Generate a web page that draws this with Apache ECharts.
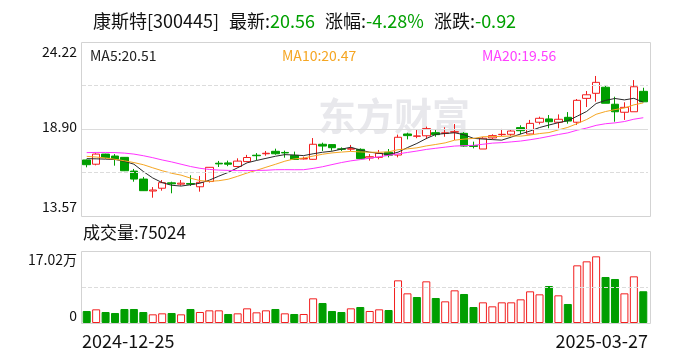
<!DOCTYPE html>
<html><head><meta charset="utf-8">
<script src="https://cdn.jsdelivr.net/npm/echarts@6/dist/echarts.min.js"></script>
<style>html,body{margin:0;padding:0;background:#fff}#c{width:688px;height:360px}</style>
</head><body><div id="c"></div>
<script>
// ---------- data ----------
const dates = [
 '2024-12-25','2024-12-26','2024-12-27','2024-12-30','2024-12-31',
 '2025-01-02','2025-01-03','2025-01-06','2025-01-07','2025-01-08','2025-01-09','2025-01-10',
 '2025-01-13','2025-01-14','2025-01-15','2025-01-16','2025-01-17','2025-01-20','2025-01-21',
 '2025-01-22','2025-01-23','2025-01-24','2025-01-27',
 '2025-02-05','2025-02-06','2025-02-07','2025-02-10','2025-02-11','2025-02-12','2025-02-13',
 '2025-02-14','2025-02-17','2025-02-18','2025-02-19','2025-02-20','2025-02-21','2025-02-24',
 '2025-02-25','2025-02-26','2025-02-27','2025-02-28',
 '2025-03-03','2025-03-04','2025-03-05','2025-03-06','2025-03-07','2025-03-10','2025-03-11',
 '2025-03-12','2025-03-13','2025-03-14','2025-03-17','2025-03-18','2025-03-19','2025-03-20',
 '2025-03-21','2025-03-24','2025-03-25','2025-03-26','2025-03-27'
];
const opens = [17.00,16.74,17.36,17.24,17.16,16.32,15.83,15.10,15.27,15.60,
 15.52,15.56,15.36,15.68,16.80,16.82,16.60,16.90,17.29,17.38,
 17.53,17.46,17.28,17.06,17.04,17.96,17.94,17.68,17.66,17.65,
 17.12,17.16,17.47,17.30,18.59,18.45,18.48,18.67,18.63,18.70,
 18.63,17.88,17.67,18.35,18.55,18.57,18.98,18.59,19.31,19.51,
 19.31,19.61,19.31,20.77,21.08,21.45,20.41,19.92,19.95,21.20];
const closes = [16.71,17.36,17.14,17.04,16.34,15.83,15.12,15.16,15.61,15.54,
 15.58,15.52,15.63,16.55,16.76,16.74,16.93,17.15,17.26,17.41,
 17.38,17.43,17.03,17.09,17.96,17.85,17.75,17.65,17.69,17.08,
 17.20,17.41,17.29,18.39,18.49,18.47,18.92,18.55,18.66,18.73,
 17.85,17.83,18.33,18.49,18.57,18.77,18.79,19.24,19.55,19.34,
 19.49,19.38,20.65,20.99,21.75,20.47,19.95,20.22,21.48,20.56];
const lows = [16.55,16.67,17.08,16.65,16.32,15.67,15.10,14.69,15.12,14.96,
 15.43,15.41,15.06,15.62,16.57,16.62,16.55,16.88,16.98,17.26,
 17.32,17.14,17.00,17.03,17.02,17.55,17.57,17.55,17.55,17.08,
 16.96,17.04,17.16,17.16,18.26,18.33,18.28,18.42,18.42,18.22,
 17.80,17.71,17.67,18.26,18.47,18.47,18.57,18.57,19.18,18.94,
 18.94,19.22,19.14,20.24,20.57,20.47,19.34,19.45,19.95,20.56];
const highs = [17.03,17.41,17.38,17.36,17.18,16.45,15.96,15.34,15.77,15.67,
 15.77,16.06,16.02,16.56,16.94,16.96,17.10,17.31,17.42,17.55,
 17.69,17.57,17.51,17.20,18.34,18.06,17.96,17.77,17.92,17.71,
 17.36,17.61,17.67,18.55,18.67,18.83,19.04,18.88,19.00,19.20,
 18.70,18.12,18.40,18.57,18.90,18.84,19.12,19.45,19.65,19.75,
 19.79,19.93,20.73,21.22,22.14,21.53,20.87,20.53,21.89,21.42];
const volumes = [28370,32300,26000,23640,33100,33100,26000,20490,22850,23640,
 20490,33100,26000,29940,29940,21280,22850,34670,25220,29940,
 33100,22850,21280,21280,58310,47280,28370,26000,34670,37820,
 28370,32300,30730,100860,70130,61460,98500,59100,51220,77220,
 68560,37820,48860,39400,48860,48860,55950,74860,67770,87470,
 65400,44920,136320,145780,157600,108740,104020,70130,110320,75024];
// moving-average values before enough closes exist in the window
const ma5Head = [17.08,17.07,17.05,17.03];
const ma10Head = [17.22,17.18,17.12,17.04,16.95,16.84,16.71,16.52,16.34];
const ma20Head = [17.45,17.46,17.46,17.45,17.42,17.36,17.26,17.14,17.00,16.88,
 16.74,16.60,16.49,16.42,16.38,16.36,16.35,16.35,16.36];
// axis ticks
const priceMin = 13.57, priceMax = 24.22;
const priceTicks = [13.57, 18.895, 24.22];
const priceTickLabels = ['13.57', '18.90', '24.22'];
const priceGridLines = [16.2325, 18.895, 21.5575];
const volMax = 170200;
const volTicks = [0, 170200];
const volTickLabels = ['0', '17.02万'];
const volGridLines = [85100];
const dateLabels = ['2024-12-25', '2025-03-27'];
// header texts
const stockName = '康斯特[300445]';
const latestPrice = '20.56', changePct = '-4.28%', changeAmt = '-0.92';
const maLegend = ['MA5:20.51', 'MA10:20.47', 'MA20:19.56'];
const volumeText = '成交量:75024';
const watermark = '东方财富';

// ---------- chart ----------
const UP = '#f21e1e', DOWN = '#009e00';
const FONT = '"Noto Sans CJK SC", "Noto Sans", sans-serif';

function movingAvg(n, head) {
  return closes.map((c, i) => {
    if (i < n - 1) return head[i];
    let s = 0;
    for (let k = i - n + 1; k <= i; k++) s += closes[k];
    return +(s / n).toFixed(3);
  });
}
const ma5 = movingAvg(5, ma5Head);
const ma10 = movingAvg(10, ma10Head);
const ma20 = movingAvg(20, ma20Head);

const kData = dates.map((d, i) => [opens[i], closes[i], lows[i], highs[i]]);
const volData = volumes.map((v, i) => {
  const prev = i === 0 ? opens[0] : closes[i - 1];
  const up = closes[i] > prev;
  return {
    value: v,
    itemStyle: up ? {color: '#ffffff', borderColor: UP, borderWidth: 1}
                  : {color: DOWN, borderColor: DOWN, borderWidth: 1}
  };
});

function tickFormatter(ticks, labels) {
  return function (v) {
    for (let i = 0; i < ticks.length; i++) {
      if (Math.abs(v - ticks[i]) < 1e-6) return '{p' + i + '|' + labels[i] + '}';
    }
    return '';
  };
}
function padRich(pads) {
  const r = {};
  pads.forEach((p, i) => { r['p' + i] = {padding: p, fontSize: 14, fontFamily: FONT, color: '#111'}; });
  return r;
}

const chart = echarts.init(document.getElementById('c'), null, {renderer: 'canvas'});
chart.setOption({
  animation: false,
  backgroundColor: '#ffffff',
  title: {
    left: 88, top: 7,
    text: '{k|' + stockName + '}  {k|最新:}{g|' + latestPrice + '}  {k|涨幅:}{g|' + changePct + '}  {k|涨跌:}{g|' + changeAmt + '}',
    textStyle: {
      fontWeight: 'normal',
      rich: {
        k: {fontSize: 18, fontFamily: FONT, color: '#111', fontWeight: 'normal'},
        g: {fontSize: 18, fontFamily: FONT, color: '#00a000', fontWeight: 'normal'}
      }
    }
  },
  grid: [
    {left: 82, width: 566, top: 42, height: 174},
    {left: 82, width: 566, top: 251, height: 72}
  ],
  xAxis: [
    {type: 'category', gridIndex: 0, position: 'bottom', data: dates, boundaryGap: true,
     axisLine: {show: false}, axisTick: {show: false}, axisLabel: {show: false}, splitLine: {show: false}},
    {type: 'category', gridIndex: 1, position: 'bottom', data: dates, boundaryGap: true,
     axisLine: {show: false}, axisTick: {show: false}, axisLabel: {show: false}, splitLine: {show: false}},
    {type: 'value', gridIndex: 1, position: 'bottom', offset: 0, min: 0, max: 1, interval: 1,
     axisLine: {show: false}, axisTick: {show: false}, splitLine: {show: false},
     axisLabel: {show: true, align: 'left', margin: 9, fontSize: 18, fontFamily: FONT, color: '#111',
       formatter: v => (v === 0 ? dateLabels[0] : '')}},
    {type: 'value', gridIndex: 1, position: 'bottom', offset: 0, min: 0, max: 1, interval: 1,
     axisLine: {show: false}, axisTick: {show: false}, splitLine: {show: false},
     axisLabel: {show: true, align: 'right', margin: 9, fontSize: 18, fontFamily: FONT, color: '#111',
       formatter: v => (v === 1 ? dateLabels[1] : '')}}
  ],
  yAxis: [
    {type: 'value', gridIndex: 0, min: priceMin, max: priceMax, scale: true,
     axisLine: {show: false}, axisTick: {show: false}, splitLine: {show: false},
     axisLabel: {show: true, margin: 5, customValues: priceTicks,
       formatter: tickFormatter(priceTicks, priceTickLabels),
       rich: padRich([[0, 0, 18, 0], [0, 0, 4, 0], [20, 0, 0, 0]])}},
    {type: 'value', gridIndex: 1, min: 0, max: volMax,
     axisLine: {show: false}, axisTick: {show: false}, splitLine: {show: false},
     axisLabel: {show: true, margin: 5, customValues: volTicks,
       formatter: tickFormatter(volTicks, volTickLabels),
       rich: padRich([[0, 0, 14, 0], [18, 0, 0, 0]])}}
  ],
  graphic: [
    {type: 'rect', z: 0, shape: {x: 81.5, y: 42.5, width: 569, height: 174},
     style: {fill: 'none', stroke: '#d3d3d3', lineWidth: 1}, silent: true},
    {type: 'rect', z: 0, shape: {x: 81.5, y: 251.5, width: 569, height: 72},
     style: {fill: 'none', stroke: '#d3d3d3', lineWidth: 1}, silent: true},
    {type: 'text', z: 0, silent: true,
     style: {x: 318, y: 116, text: watermark, fill: '#e8e8ec', font: 'bold 38px ' + FONT, verticalAlign: 'middle'}},
    {type: 'text', silent: true,
     style: {x: 90, y: 56, text: maLegend[0], fill: '#222', font: '14px ' + FONT, verticalAlign: 'middle'}},
    {type: 'text', silent: true,
     style: {x: 282, y: 56, text: maLegend[1], fill: '#f5a623', font: '14px ' + FONT, verticalAlign: 'middle'}},
    {type: 'text', silent: true,
     style: {x: 482, y: 56, text: maLegend[2], fill: '#ff40ff', font: '14px ' + FONT, verticalAlign: 'middle'}},
    {type: 'text', silent: true,
     style: {x: 83, y: 233, text: volumeText, fill: '#111', font: '17px ' + FONT, verticalAlign: 'middle'}}
  ],
  series: [
    {type: 'candlestick', xAxisIndex: 0, yAxisIndex: 0, data: kData, barWidth: 8,
     itemStyle: {color: '#ffffff', color0: DOWN, borderColor: UP, borderColor0: DOWN, borderWidth: 1},
     markLine: {silent: true, symbol: 'none', label: {show: false},
       data: priceGridLines.map((v, i) => ({yAxis: v,
         lineStyle: {color: '#dcdcdc', width: 1, type: i === 1 ? 'solid' : 'dashed'}}))}},
    {type: 'line', xAxisIndex: 0, yAxisIndex: 0, data: ma5, showSymbol: false, symbol: 'none',
     lineStyle: {color: '#2a2a2a', width: 1}, z: 3},
    {type: 'line', xAxisIndex: 0, yAxisIndex: 0, data: ma10, showSymbol: false, symbol: 'none',
     lineStyle: {color: '#f5a623', width: 1}, z: 3},
    {type: 'line', xAxisIndex: 0, yAxisIndex: 0, data: ma20, showSymbol: false, symbol: 'none',
     lineStyle: {color: '#ff33ff', width: 1}, z: 3},
    {type: 'bar', xAxisIndex: 1, yAxisIndex: 1, data: volData, barWidth: 8,
     markLine: {silent: true, symbol: 'none', label: {show: false},
       data: volGridLines.map(v => ({yAxis: v, lineStyle: {color: '#dcdcdc', width: 1, type: 'dashed'}}))}}
  ]
});
</script></body></html>
